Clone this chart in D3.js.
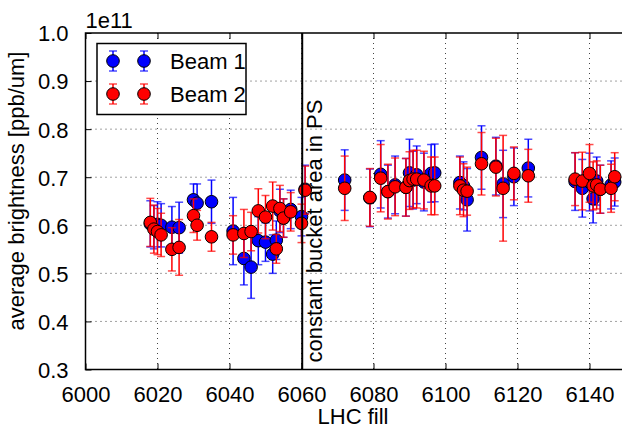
<!DOCTYPE html>
<html><head><meta charset="utf-8">
<script src="https://cdn.jsdelivr.net/npm/d3@7"></script>
<style>body{margin:0;background:#fff}svg{display:block}text{font-family:"Liberation Sans",Arial,sans-serif;fill:#000}</style>
</head><body><svg id="c" width="622" height="434"></svg>
<script>
// Beam 1 data
const fills1 = [6018,6019,6020,6021,6024,6026,6030,6031,6035,6041,6044,6046,6048,6050,6052,6053,6054,6055,6057,6060,6061,
  6072,6079,6082,6084,6086,6089,6090,6091,6092,6094,6096,6097,6104,6105,6106,6110,6114,6116,6119,6123,6136,6138,6140,6141,6142,6143,6146,6147];
const beam1 = [0.603,0.596,0.602,0.600,0.596,0.595,0.653,0.646,0.649,0.588,0.531,0.513,0.568,0.565,0.540,0.569,0.630,0.615,0.633,0.618,0.675,
  0.694,0.657,0.706,0.670,0.684,0.679,0.709,0.694,0.705,0.690,0.708,0.709,0.689,0.682,0.653,0.741,0.723,0.686,0.701,0.719,0.691,0.677,0.690,0.655,0.692,0.675,0.684,0.690];
const err1 = [0.048,0.045,0.047,0.045,0.043,0.053,0.033,0.040,0.045,0.070,0.055,0.065,0.050,0.040,0.040,0.040,0.045,0.040,0.040,0.040,0.050,
  0.063,0.060,0.070,0.055,0.060,0.060,0.070,0.060,0.060,0.060,0.060,0.060,0.055,0.050,0.065,0.066,0.060,0.070,0.060,0.060,0.060,0.060,0.060,0.050,0.050,0.050,0.050,0.050];
// Beam 2 data
const fills2 = fills1;
const beam2 = [0.606,0.592,0.587,0.580,0.550,0.554,0.620,0.600,0.576,0.580,0.583,0.587,0.630,0.617,0.640,0.551,0.635,0.615,0.628,0.604,0.673,
  0.677,0.658,0.698,0.670,0.680,0.679,0.693,0.696,0.696,0.694,0.682,0.682,0.682,0.673,0.671,0.728,0.721,0.677,0.708,0.703,0.696,0.692,0.708,0.682,0.684,0.675,0.677,0.701];
const err2 = [0.050,0.050,0.048,0.045,0.045,0.058,0.035,0.031,0.030,0.040,0.050,0.040,0.046,0.045,0.050,0.030,0.048,0.040,0.040,0.040,0.050,
  0.067,0.060,0.070,0.057,0.060,0.060,0.060,0.060,0.060,0.060,0.060,0.060,0.060,0.055,0.050,0.065,0.060,0.110,0.055,0.055,0.055,0.060,0.060,0.050,0.050,0.050,0.050,0.050];
const xTicks = [6000,6020,6040,6060,6080,6100,6120,6140];
const yTicks = [0.3,0.4,0.5,0.6,0.7,0.8,0.9,1.0];
const series = [
  {name:"Beam 1", fills:fills1, vals:beam1, errs:err1, color:"#0000ff"},
  {name:"Beam 2", fills:fills2, vals:beam2, errs:err2, color:"#ff0000"}
];
const changeFill = 6060.2;
const noteText = "constant bucket area in PS";

const svg = d3.select("#c");
const L=85.5, R=625.5, T=33, B=369.5;
const FS = 22;
const x = d3.scaleLinear().domain([6000,6150]).range([L,R]);
const y = d3.scaleLinear().domain([0.3,1.0]).range([B,T]);

// grid
const g = svg.append("g");
g.selectAll(".gx").data(xTicks.slice(1)).enter().append("line")
  .attr("x1",d=>x(d)).attr("x2",d=>x(d)).attr("y1",T).attr("y2",B)
  .attr("stroke","#444").attr("stroke-width",1).attr("stroke-dasharray","1,4");
g.selectAll(".gy").data(yTicks.slice(1,-1)).enter().append("line")
  .attr("x1",L).attr("x2",R).attr("y1",d=>y(d)).attr("y2",d=>y(d))
  .attr("stroke","#444").attr("stroke-width",1).attr("stroke-dasharray","1,4");

// axes (ticks inward)
const ax = svg.append("g").attr("transform",`translate(0,${B})`)
  .call(d3.axisBottom(x).tickValues(xTicks).tickSize(-6).tickPadding(17).tickFormat(d3.format("d")));
const axT = svg.append("g").attr("transform",`translate(0,${T})`)
  .call(d3.axisTop(x).tickValues(xTicks).tickSize(-6).tickFormat(""));
const ay = svg.append("g").attr("transform",`translate(${L},0)`)
  .call(d3.axisLeft(y).tickValues(yTicks).tickSize(-6).tickPadding(17).tickFormat(d3.format(".1f")));
[ax,axT,ay].forEach(a=>{
  a.select(".domain").remove();
  a.selectAll("line").attr("stroke","#000").attr("stroke-width",1);
  a.selectAll("text").attr("font-size",FS).attr("font-family","Liberation Sans, Arial, sans-serif");
});
ax.selectAll("text").attr("dy","0.71em");
ay.selectAll("text").attr("dy","0.36em");
// frame
svg.append("rect").attr("x",L).attr("y",T).attr("width",R-L).attr("height",B-T)
  .attr("fill","none").attr("stroke","#000").attr("stroke-width",1.5);

// data
series.forEach(s=>{
  const sg = svg.append("g");
  const pts = s.fills.map((f,i)=>({f, v:s.vals[i], e:s.errs[i]}));
  sg.selectAll(".eb").data(pts).enter().append("line")
    .attr("x1",d=>x(d.f)).attr("x2",d=>x(d.f)).attr("y1",d=>y(d.v-d.e)).attr("y2",d=>y(d.v+d.e))
    .attr("stroke",s.color).attr("stroke-width",1.5);
  ["top","bot"].forEach(k=>{
    sg.selectAll(".cap"+k).data(pts).enter().append("line")
      .attr("x1",d=>x(d.f)-4).attr("x2",d=>x(d.f)+4)
      .attr("y1",d=>y(k==="top"?d.v+d.e:d.v-d.e)).attr("y2",d=>y(k==="top"?d.v+d.e:d.v-d.e))
      .attr("stroke",s.color).attr("stroke-width",1.5).attr("stroke-opacity",0.7);
  });
  sg.selectAll(".pt").data(pts).enter().append("circle")
    .attr("cx",d=>x(d.f)).attr("cy",d=>y(d.v)).attr("r",6.3)
    .attr("fill",s.color).attr("stroke","#000").attr("stroke-width",1);
});

// vertical line and note
svg.append("line").attr("x1",x(changeFill)).attr("x2",x(changeFill)).attr("y1",T).attr("y2",B)
  .attr("stroke","#000").attr("stroke-width",2);
svg.append("text").attr("transform",`translate(${x(changeFill)+20},${B-7}) rotate(-90)`)
  .attr("font-size",FS).text(noteText);

// offset text
svg.append("text").attr("x",L).attr("y",28).attr("font-size",FS).text("1e11");

// legend
const lg = svg.append("g");
lg.append("rect").attr("x",97).attr("y",43.5).attr("width",149).attr("height",71)
  .attr("fill","#fff").attr("stroke","#000").attr("stroke-width",1.5);
series.forEach((s,i)=>{
  const cy = 61+i*33;
  [113,144].forEach(cx=>{
    lg.append("line").attr("x1",cx).attr("x2",cx).attr("y1",cy-10).attr("y2",cy+10).attr("stroke",s.color).attr("stroke-width",1.5);
    [cy-10,cy+10].forEach(yy=>lg.append("line").attr("x1",cx-4).attr("x2",cx+4).attr("y1",yy).attr("y2",yy).attr("stroke",s.color).attr("stroke-width",1.5).attr("stroke-opacity",0.7));
    lg.append("circle").attr("cx",cx).attr("cy",cy).attr("r",6.3).attr("fill",s.color).attr("stroke","#000");
  });
  lg.append("text").attr("x",170).attr("y",cy+8).attr("font-size",FS).text(s.name);
});

// axis labels
svg.append("text").attr("x",353).attr("y",424).attr("text-anchor","middle").attr("font-size",FS).text("LHC fill");
svg.append("text").attr("transform",`translate(24,191) rotate(-90)`).attr("text-anchor","middle").attr("font-size",FS).text("average brightness [ppb/um]");
</script></body></html>
